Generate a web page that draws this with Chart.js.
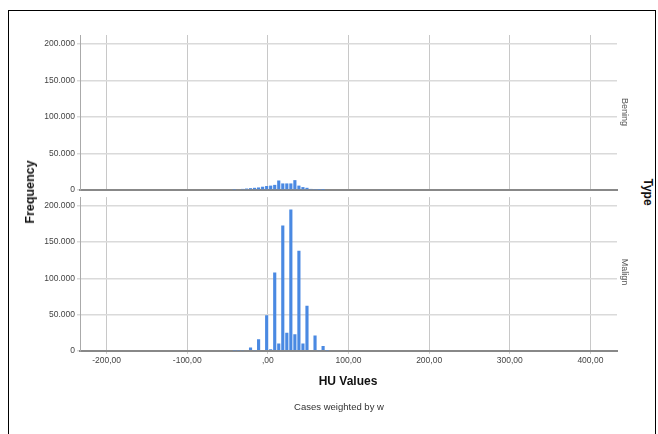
<!DOCTYPE html>
<html>
<head>
  <meta charset="UTF-8">
  <title>HU Values by Type</title>
  <script src="https://cdn.jsdelivr.net/npm/chart.js"></script>
  <style>
    body { margin: 0; background: #fff; font-family: "Liberation Sans", Arial, sans-serif; }
    #page { position: relative; width: 658px; height: 434px; overflow: hidden; }
    #frame { position: absolute; left: 8px; top: 10px; width: 646px; height: 440px; border: 1px solid #000; }
    .panel { position: absolute; left: 0; }
    .lbl { position: absolute; white-space: nowrap; transform: translate(-50%, -50%); }
    .bold { font-weight: bold; color: #111; font-size: 12.5px; }
    .strip { font-size: 9px; color: #555; }
  </style>
</head>
<body>
<div id="page">
  <div id="frame"></div>
  <canvas id="topChart" class="panel" width="640" height="200" style="top:0"></canvas>
  <canvas id="bottomChart" class="panel" width="640" height="244" style="top:190px"></canvas>

  <div class="lbl bold" style="left:30px; top:192px; transform: translate(-50%,-50%) rotate(-90deg)">Frequency</div>
  <div class="lbl bold" style="left:648px; top:192px; transform: translate(-50%,-50%) rotate(90deg); font-size:12px">Type</div>
  <div class="lbl strip" style="left:625px; top:112px; transform: translate(-50%,-50%) rotate(90deg)">Bening</div>
  <div class="lbl strip" style="left:625px; top:272px; transform: translate(-50%,-50%) rotate(90deg)">Malign</div>
  <div class="lbl bold" style="left:348px; top:381px; font-size:12px">HU Values</div>
  <div class="lbl" style="left:339px; top:406px; font-size:9.5px; color:#333">Cases weighted by w</div>
</div>

<script>
  // bin centres (HU), 5 HU wide
  const binCenters = [-41.5, -36.5, -31.5, -26.5, -21.5, -16.5, -11.5, -6.5, -1.5, 3.5,
                      8.5, 13.5, 18.5, 23.5, 28.5, 33.5, 38.5, 43.5, 48.5, 53.5,
                      58.5, 63.5, 68.5, 73.5, 78.5];
  // weighted frequencies per bin
  const beningCounts = [500, 1000, 1500, 2000, 2500, 3000, 3500, 4500, 5500, 6000,
                        7000, 13000, 9000, 9000, 9000, 13500, 6000, 4000, 3000, 1500,
                        500, 300, 200, 0, 0];
  const malignCounts = [300, 500, 800, 1000, 4500, 800, 16000, 1000, 49000, 2000,
                        108000, 10000, 173000, 25000, 195000, 23000, 138000, 10000, 62000, 1000,
                        21000, 800, 6500, 500, 1200];
  const xTickValues = [-200, -100, 0, 100, 200, 300, 400];
  const yTickValues = [0, 50000, 100000, 150000, 200000];

  const FONT = '"Liberation Sans", Arial, sans-serif';

  function fmtX(v) {
    if (v === 0) return ',00';
    return v.toFixed(2).replace('.', ',');
  }
  function fmtY(v) {
    return String(v).replace(/\B(?=(\d{3})+(?!\d))/g, '.');
  }

  function makePanel(id, counts, showX, padding) {
    const ctx = document.getElementById(id).getContext('2d');
    return new Chart(ctx, {
      type: 'bar',
      data: {
        datasets: [{
          data: binCenters.map((x, i) => ({ x: x, y: counts[i] })),
          backgroundColor: '#4a89e2',
          borderWidth: 0,
          barPercentage: 0.78,
          categoryPercentage: 1
        }]
      },
      options: {
        responsive: false,
        animation: false,
        layout: { padding: padding },
        plugins: { legend: { display: false }, tooltip: { enabled: false } },
        scales: {
          x: {
            type: 'linear',
            min: -233, max: 433,
            offset: false,
            afterBuildTicks: s => { s.ticks = xTickValues.map(v => ({ value: v })); },
            ticks: {
              display: showX, autoSkip: false, maxRotation: 0, padding: 2,
              color: '#444', font: { family: FONT, size: 8.5 },
              callback: fmtX
            },
            grid: { color: '#c8c8c8', lineWidth: 1, drawTicks: showX, tickLength: 3, offset: false },
            border: { color: '#888', width: 2 }
          },
          y: {
            min: 0, max: 212000,
            afterBuildTicks: s => { s.ticks = yTickValues.map(v => ({ value: v })); },
            ticks: {
              padding: 2, color: '#444', font: { family: FONT, size: 8.5 },
              callback: fmtY
            },
            grid: { color: '#dadada', lineWidth: 1.5, tickLength: 3 },
            border: { color: '#aaa', width: 1 },
            afterFit: s => { s.width = 80; }
          }
        }
      }
    });
  }

  makePanel('topChart', beningCounts, false, { top: 35, right: 23, bottom: 10, left: 0 });
  makePanel('bottomChart', malignCounts, true, { top: 3, right: 23, bottom: 66, left: 0 });
</script>
</body>
</html>
